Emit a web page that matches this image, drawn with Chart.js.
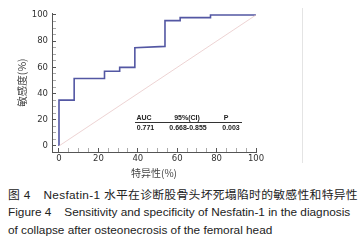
<!DOCTYPE html>
<html>
<head>
<meta charset="utf-8">
<script src="https://cdn.jsdelivr.net/npm/chart.js@4.4.1/dist/chart.umd.min.js"></script>
<style>
    body { margin: 0; background: #fff; width: 362px; height: 246px; overflow: hidden; position: relative; }
    #wrap { position: absolute; left: 0; top: 0; width: 362px; height: 180px; }
    #frame { position: absolute; left: 302px; top: 8px; width: 1px; height: 155px; background: #e4e4e4; }
    .cap { position: absolute; left: 8px; font-family: 'Liberation Sans', Arial, 'Noto Sans CJK SC', sans-serif; font-size: 11.8px; color: #222; white-space: nowrap; }
    .zh { font-family: 'Liberation Sans', 'Noto Sans CJK SC', sans-serif; }
    .gap { display: inline-block; width: 13px; }
</style>
</head>
<body>
<div id="wrap"><canvas id="rocChart"></canvas></div>
<div id="frame"></div>
<div class="cap zh" style="top:185px; letter-spacing:0.3px;">图 4<span class="gap"></span>Nesfatin-1 水平在诊断股骨头坏死塌陷时的敏感性和特异性</div>
<div class="cap" style="top:205px;">Figure 4<span class="gap"></span>Sensitivity and specificity of Nesfatin-1 in the diagnosis</div>
<div class="cap" style="top:223px;">of collapse after osteonecrosis of the femoral head</div>
<script>
// ROC curve (x = 100 - specificity, y = sensitivity)
const ROC_X = [0, 0, 7.7, 7.7, 23.1, 23.1, 30.8, 30.8, 38.5, 38.5, 53.8, 53.8, 61.5, 61.5, 76.9, 76.9, 100];
const ROC_Y = [0, 35, 35, 51.5, 51.5, 57, 57, 60, 60, 75, 76, 95.7, 95.7, 98, 98, 100, 100];
// reference diagonal
const REF_X = [0, 100];
const REF_Y = [0, 100];

const X_TICKS = [0, 5, 10, 15, 20, 25, 30, 35, 40, 45, 50, 55, 60, 65, 70, 75, 80, 85, 90, 95, 100];
const Y_TICKS = [0, 5, 10, 15, 20, 25, 30, 35, 40, 45, 50, 55, 60, 65, 70, 75, 80, 85, 90, 95, 100];

const TABLE_HEAD = ['AUC', '95%(CI)', 'P'];
const TABLE_VALS = ['0.771', '0.668-0.855', '0.003'];

const toPoints = (xs, ys) => xs.map((x, i) => ({ x: x, y: ys[i] }));
const isMajor = (v) => v % 20 === 0;

const tickFont = { family: 'DejaVu Sans', size: 8.5 };

// small AUC table drawn inside the plot area
const aucTable = {
    id: 'aucTable',
    afterDraw(chart) {
        const { ctx, chartArea } = chart;
        const left = chartArea.left;
        const top = chartArea.top;
        ctx.save();
        ctx.fillStyle = '#222';
        ctx.font = 'bold 7px "Liberation Sans", Arial, sans-serif';
        ctx.textAlign = 'center';
        ctx.textBaseline = 'middle';
        const headX = [92, 135, 174];
        const valX = [93.5, 136, 179];
        TABLE_HEAD.forEach((t, i) => ctx.fillText(t, left + headX[i], top + 105));
        TABLE_VALS.forEach((t, i) => ctx.fillText(t, left + valX[i], top + 115.5));
        ctx.strokeStyle = '#333';
        ctx.lineWidth = 1;
        ctx.beginPath();
        ctx.moveTo(left + 83, top + 109.5);
        ctx.lineTo(left + 190, top + 109.5);
        ctx.stroke();
        ctx.restore();
    }
};

new Chart(document.getElementById('rocChart'), {
    type: 'scatter',
    data: {
        datasets: [
            {
                data: toPoints(REF_X, REF_Y),
                showLine: true,
                borderColor: '#e9c8c8',
                borderWidth: 0.8,
                pointRadius: 0
            },
            {
                data: toPoints(ROC_X, ROC_Y),
                showLine: true,
                borderColor: '#5357a3',
                borderWidth: 1.6,
                pointRadius: 0,
                tension: 0
            }
        ]
    },
    options: {
        responsive: true,
        maintainAspectRatio: false,
        animation: false,
        layout: { padding: { top: 13, right: 106, bottom: 0, left: 0 } },
        plugins: {
            legend: { display: false },
            tooltip: { enabled: false }
        },
        scales: {
            x: {
                type: 'linear',
                min: -3.55,
                max: 100,
                afterBuildTicks: (s) => { s.ticks = X_TICKS.map(v => ({ value: v })); },
                afterFit: (s) => { s.height = 28; s.paddingLeft = 0; s.paddingRight = 0; },
                border: { display: true, color: '#555', width: 1 },
                grid: {
                    drawOnChartArea: false,
                    tickLength: -4,
                    tickColor: (c) => isMajor(c.tick.value) ? '#555' : '#aaa',
                    tickWidth: 1
                },
                ticks: {
                    maxRotation: 0,
                    autoSkip: false,
                    padding: 6,
                    color: '#333',
                    font: tickFont,
                    callback: (v) => isMajor(v) ? v : ''
                },
                title: {
                    display: true,
                    text: '特异性(%)',
                    color: '#444',
                    font: { family: 'Noto Sans CJK SC', size: 10 },
                    padding: { top: 0, bottom: 1 }
                }
            },
            y: {
                type: 'linear',
                min: -4.6,
                max: 101.5,
                afterBuildTicks: (s) => { s.ticks = Y_TICKS.map(v => ({ value: v })); },
                afterFit: (s) => { s.width = 52; s.paddingTop = 0; s.paddingBottom = 0; },
                border: { display: true, color: '#555', width: 1 },
                grid: {
                    drawOnChartArea: false,
                    tickLength: -4,
                    tickColor: (c) => isMajor(c.tick.value) ? '#555' : '#aaa',
                    tickWidth: 1
                },
                ticks: {
                    autoSkip: false,
                    padding: 8,
                    color: '#333',
                    font: tickFont,
                    callback: (v) => isMajor(v) ? v : ''
                },
                title: {
                    display: true,
                    text: '敏感度(%)',
                    color: '#444',
                    font: { family: 'Noto Sans CJK SC', size: 10.5 },
                    padding: { top: 16, bottom: 0 }
                }
            }
        }
    },
    plugins: [aucTable]
});
</script>
</body>
</html>
